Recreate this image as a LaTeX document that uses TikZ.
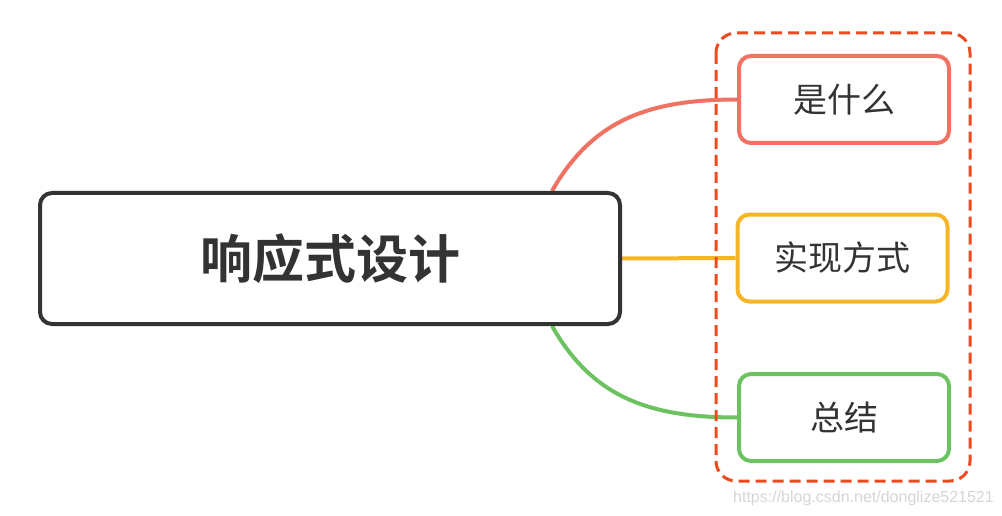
\documentclass[tikz,border=0pt]{standalone}
\usepackage{fontspec}
\newfontfamily\cjk{Noto Sans CJK SC}
\newfontfamily\cjkbold{Noto Sans CJK SC Bold}
\usetikzlibrary{calc}
\pgfdeclarelayer{background}
\pgfsetlayers{background,main}
\definecolor{dark}{HTML}{333333}
\definecolor{cred}{HTML}{F07262}
\definecolor{corange}{HTML}{F6B526}
\definecolor{cgreen}{HTML}{6CC261}
\definecolor{cdash}{HTML}{EA4B1F}
\definecolor{wm}{HTML}{D5D5D5}
\tikzset{
  mainbox/.style={draw=dark, line width=4pt, rounded corners=12pt, fill=white,
    minimum width=580pt, minimum height=131pt, inner sep=0pt,
    font=\cjkbold\fontsize{52pt}{56pt}\selectfont, text=dark},
  childbox/.style={line width=4pt, rounded corners=12pt, fill=white,
    minimum width=210pt, minimum height=87pt, inner sep=0pt,
    font=\cjk\fontsize{34pt}{38pt}\selectfont, text=dark},
  conn/.style={line width=4pt},
  group/.style={draw=cdash, line width=3pt, dash pattern=on 11pt off 6pt, rounded corners=20pt}
}
\begin{document}
\begin{tikzpicture}[x=1pt,y=-1pt]
\useasboundingbox (0,0) rectangle (1002,516);
\node[mainbox] (main) at (330,258.5) {响应式设计};
\node[childbox, draw=cred] (c1) at (844,99.5) {是什么};
\node[childbox, draw=corange] (c2) at (842.5,258) {实现方式};
\node[childbox, draw=cgreen] (c3) at (844,417.5) {总结};
\coordinate (top) at ($(main.north east)+(-70,0)$);
\coordinate (bot) at ($(main.south east)+(-70,0)$);
\begin{pgfonlayer}{background}
\draw[conn, cred] (top) .. controls ($(top)+(40,-70)$) and ($(c1.west)+(-90,0)$) .. (c1.west);
\draw[conn, corange] (main.east) -- (c2.west);
\draw[conn, cgreen] (bot) .. controls ($(bot)+(40,70)$) and ($(c3.west)+(-90,0)$) .. (c3.west);
\end{pgfonlayer}
\draw[group] (716,33) rectangle (970,481);
\node[font=\fontspec{Liberation Sans}\fontsize{16pt}{18pt}\selectfont, text=wm, anchor=east, inner sep=0pt] (wmark) at (994,498) {https://blog.csdn.net/donglize521521};
\end{tikzpicture}
\end{document}
